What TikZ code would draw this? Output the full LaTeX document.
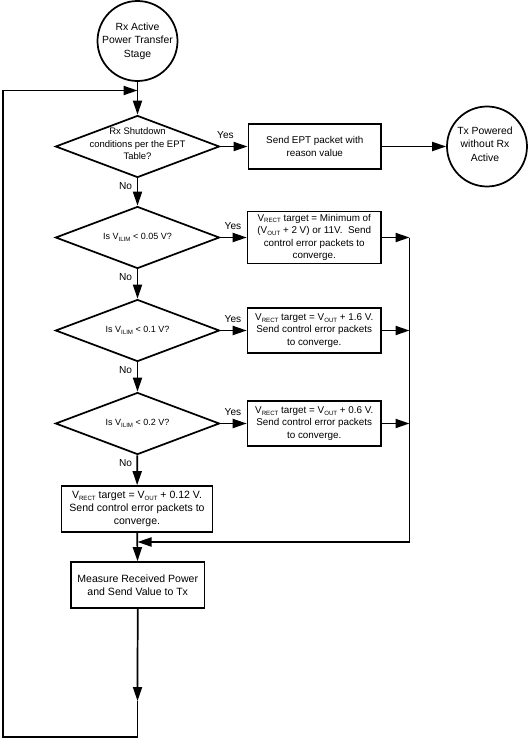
\documentclass[tikz,border=0pt]{standalone}
\usepackage{fontspec}
\setmainfont{Liberation Sans}
\usetikzlibrary{arrows.meta,shapes.geometric}
\newcommand{\sbs}[1]{\raisebox{-0.35ex}{\fontsize{4.6pt}{5pt}\selectfont #1}}
\begin{document}
\begin{tikzpicture}[x=0.75pt,y=-0.75pt,
  ln/.style={line width=1.3pt},
  arr/.style={ln,-{Triangle[length=10.5pt,width=6.8pt]}},
  boxn/.style={draw,ln,rectangle,inner sep=0pt,align=center,font=\fontsize{7.4pt}{9.45pt}\selectfont},
  boxb/.style={boxn,font=\fontsize{7.9pt}{9.5pt}\selectfont},
  circ/.style={draw,ln,circle,minimum size=60pt,inner sep=0pt},
  ctxt/.style={inner sep=0pt,align=center,font=\fontsize{7.8pt}{10pt}\selectfont},
  dia/.style={draw,ln,diamond,minimum width=123pt,minimum height=46.5pt,inner sep=0pt},
  dtxt/.style={inner sep=0pt,align=center,font=\fontsize{6.75pt}{9pt}\selectfont},
  dtxtb/.style={inner sep=0pt,align=center,font=\fontsize{7.1pt}{9.4pt}\selectfont},
  lbl/.style={inner sep=0pt,font=\fontsize{7.6pt}{9pt}\selectfont}]
\useasboundingbox (0,0) rectangle (530,739);

% start / end circles
\node[circ] (start) at (137.5,41) {};
\node[ctxt] (startt) at (137.5,41) {Rx Active\\Power Transfer\\Stage};
\node[circ] (tx) at (487,146.5) {};
\node[ctxt] (txt) at (485,144) {Tx Powered\\without Rx\\Active};

% decisions
\node[dia] (d1) at (137.5,146.5) {};
\node[dtxtb] (d1t) at (137.5,144) {Rx Shutdown\\conditions per the EPT\\Table?};
\node[dia] (d2) at (137.5,237.5) {};
\node[dtxt] (d2t) at (137.5,237.5) {Is V\sbs{ILIM} < 0.05 V?};
\node[dia] (d3) at (137.5,330.5) {};
\node[dtxt] (d3t) at (137.5,330.5) {Is V\sbs{ILIM} < 0.1 V?};
\node[dia] (d4) at (137.5,423.5) {};
\node[dtxt] (d4t) at (137.5,423.5) {Is V\sbs{ILIM} < 0.2 V?};

% boxes
\node[boxn,minimum width=99.5pt,minimum height=33.5pt] (ept) at (314.75,146.5) {Send EPT packet with\\reason value};
\node[boxn,minimum width=100pt,minimum height=39pt] (b1) at (314.25,237.5) {V\sbs{RECT} target = Minimum of\\(V\sbs{OUT} + 2 V) or 11V.~~Send\\control error packets to\\converge.};
\node[boxn,minimum width=100pt,minimum height=33.5pt] (b2) at (314.25,330.5) {V\sbs{RECT} target = V\sbs{OUT} + 1.6 V.\\Send control error packets\\to converge.};
\node[boxn,minimum width=100pt,minimum height=33.5pt] (b3) at (314.25,423.5) {V\sbs{RECT} target = V\sbs{OUT} + 0.6 V.\\Send control error packets\\to converge.};
\node[boxb,minimum width=113.25pt,minimum height=34.5pt] (b4) at (137,509) {V\sbs{RECT} target = V\sbs{OUT} + 0.12 V.\\Send control error packets to\\converge.};
\node[boxb,minimum width=100pt,minimum height=34.5pt] (meas) at (137.75,585) {Measure Received Power\\and Send Value to Tx};

% labels
\node[lbl] (y1) at (225.5,135) {Yes};
\node[lbl] (y2) at (233,226.5) {Yes};
\node[lbl] (y3) at (233,319.5) {Yes};
\node[lbl] (y4) at (233,412.5) {Yes};
\node[lbl] (n1) at (125.5,186.5) {No};
\node[lbl] (n2) at (125.5,277) {No};
\node[lbl] (n3) at (125.5,370) {No};
\node[lbl] (n4) at (125.5,463) {No};

% junction points
\coordinate (jtop) at (137.5,90.5);
\coordinate (jret) at (137.5,542);
\coordinate (r1) at (409.5,237.5);
\coordinate (r2) at (409.5,330.5);
\coordinate (r3) at (409.5,423.5);
\coordinate (tipb) at (137.5,701);
\coordinate (bl) at (3,737);

% connectors
\draw[arr] (start) -- (d1);
\draw[arr] (d1) -- (ept);
\draw[arr] (ept) -- (tx);
\draw[arr] (d1) -- (d2);
\draw[arr] (d2) -- (b1);
\draw[arr] (d2) -- (d3);
\draw[arr] (d3) -- (b2);
\draw[arr] (d3) -- (d4);
\draw[arr] (d4) -- (b3);
\draw[arr] (d4) -- (b4);
\draw[arr] (b1) -- (r1);
\draw[arr] (b2) -- (r2);
\draw[arr] (b3) -- (r3);
\draw[arr] (r1) |- (jret);
\draw[arr] (b4) -- (meas);
\draw[arr] (meas) -- (tipb);
\draw[arr] (tipb) |- (bl) |- (jtop);
\end{tikzpicture}
\end{document}
